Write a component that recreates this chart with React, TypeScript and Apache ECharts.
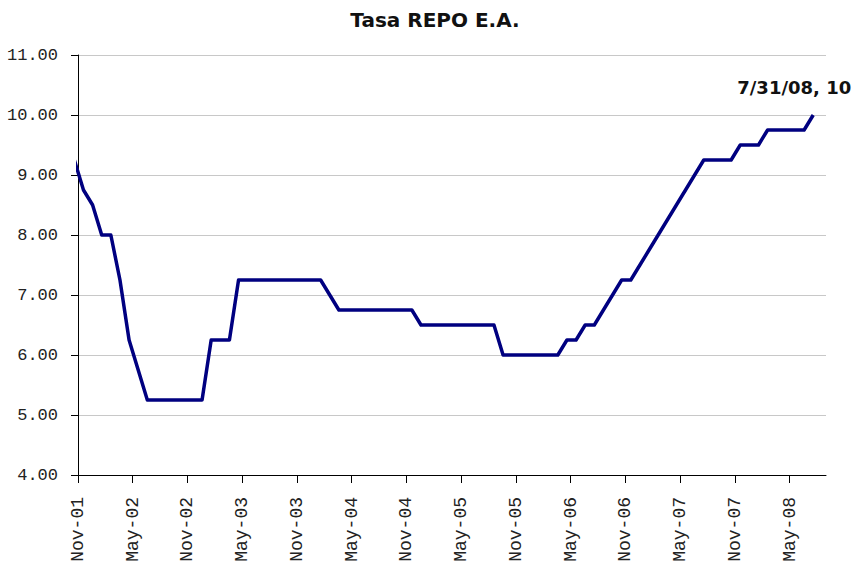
import React, { useEffect, useRef } from "react";
import * as echarts from "echarts";

// Month labels on the x axis (every 6 months starting Nov-01)
const tickLabels = [
  "Nov-01", "May-02", "Nov-02", "May-03", "Nov-03", "May-04", "Nov-04",
  "May-05", "Nov-05", "May-06", "Nov-06", "May-07", "Nov-07", "May-08",
];

// Monthly REPO rate (% E.A.), Oct-01 through Jul-08
const repoRate = [
  9.25, // Oct-01
  8.75, 8.5, 8.0, 8.0, 7.25, 6.25, 5.75, 5.25, 5.25, 5.25, 5.25, 5.25, 5.25, 5.25, // Nov-01 .. Dec-02
  6.25, 6.25, 6.25, 7.25, 7.25, 7.25, 7.25, 7.25, 7.25, 7.25, 7.25, 7.25, 7.25, // Jan-03 .. Jan-04
  7.0, 6.75, 6.75, 6.75, 6.75, 6.75, 6.75, 6.75, 6.75, 6.75, // Feb-04 .. Nov-04
  6.5, 6.5, 6.5, 6.5, 6.5, 6.5, 6.5, 6.5, 6.5, // Dec-04 .. Aug-05
  6.0, 6.0, 6.0, 6.0, 6.0, 6.0, 6.0, // Sep-05 .. Mar-06
  6.25, 6.25, 6.5, 6.5, 6.75, 7.0, 7.25, 7.25, // Apr-06 .. Nov-06
  7.5, 7.75, 8.0, 8.25, 8.5, 8.75, 9.0, 9.25, 9.25, 9.25, 9.25, // Dec-06 .. Oct-07
  9.5, 9.5, 9.5, 9.75, 9.75, 9.75, 9.75, 9.75, 10.0, // Nov-07 .. Jul-08
];

const firstMonthOffset = -1; // Oct-01 relative to Nov-01
const dayFraction = 0.6; // position within month of each observation
const lastLabel = "7/31/08, 10";

const xMax = 82;
const yMin = 4;
const yMax = 11;

export default function App() {
  const ref = useRef<HTMLDivElement>(null);
  useEffect(() => {
    if (!ref.current) return;
    const chart = echarts.init(ref.current, undefined, { renderer: "svg" });
    const data = repoRate.map((v, i) => [i + firstMonthOffset + dayFraction, v]);
    const tickValues = tickLabels.map((_, i) => i * 6);
    const lastIdx = data.length - 1;
    chart.setOption({
      animation: false,
      backgroundColor: "#ffffff",
      title: {
        text: "Tasa REPO E.A.",
        left: 430,
        top: 5,
        textAlign: "center",
        textStyle: {
          fontFamily: "DejaVu Sans",
          fontWeight: "bold",
          fontSize: 20,
          color: "#111",
        },
      },
      grid: { left: 78, right: 28, top: 55, bottom: 94, containLabel: false },
      xAxis: {
        type: "value",
        min: 0,
        max: xMax,
        axisLine: { show: true, lineStyle: { color: "#000", width: 1 } },
        axisTick: {
          show: true,
          length: 8,
          lineStyle: { color: "#000" },
          customValues: tickValues,
        },
        splitLine: { show: false },
        axisLabel: {
          rotate: 90,
          margin: 22,
          fontFamily: "Liberation Mono",
          fontSize: 18,
          color: "#222",
          customValues: tickValues,
          formatter: (v: number) => {
            const i = Math.round(v / 6);
            return tickLabels[i] ?? "";
          },
        },
      },
      yAxis: {
        type: "value",
        min: yMin,
        max: yMax,
        interval: 1,
        axisLine: { show: true, lineStyle: { color: "#000", width: 1 } },
        axisTick: { show: true, length: 7, lineStyle: { color: "#000" } },
        splitLine: { show: true, lineStyle: { color: "#c8c8c8", width: 1 } },
        axisLabel: {
          margin: 20,
          fontFamily: "Liberation Mono",
          fontSize: 17,
          color: "#222",
          formatter: (v: number) => v.toFixed(2),
        },
      },
      series: [
        {
          type: "line",
          data: data.map((d, i) =>
            i === lastIdx
              ? {
                  value: d,
                  label: {
                    show: true,
                    position: "top",
                    distance: 18,
                    offset: [-19, 0],
                    opacity: 1,
                    formatter: lastLabel,
                    fontFamily: "DejaVu Sans",
                    fontWeight: "bold",
                    fontSize: 18,
                    color: "#111",
                  },
                }
              : d
          ),
          showSymbol: true,
          symbol: "circle",
          symbolSize: 1,
          itemStyle: { color: "rgba(0,0,0,0)", borderWidth: 0 },
          clip: true,
          lineStyle: { color: "#000080", width: 3.5, join: "round" },
        },
      ],
    });
    return () => chart.dispose();
  }, []);
  return (
    <div
      ref={ref}
      style={{ position: "absolute", left: 0, top: 0, width: 854, height: 569 }}
    />
  );
}
